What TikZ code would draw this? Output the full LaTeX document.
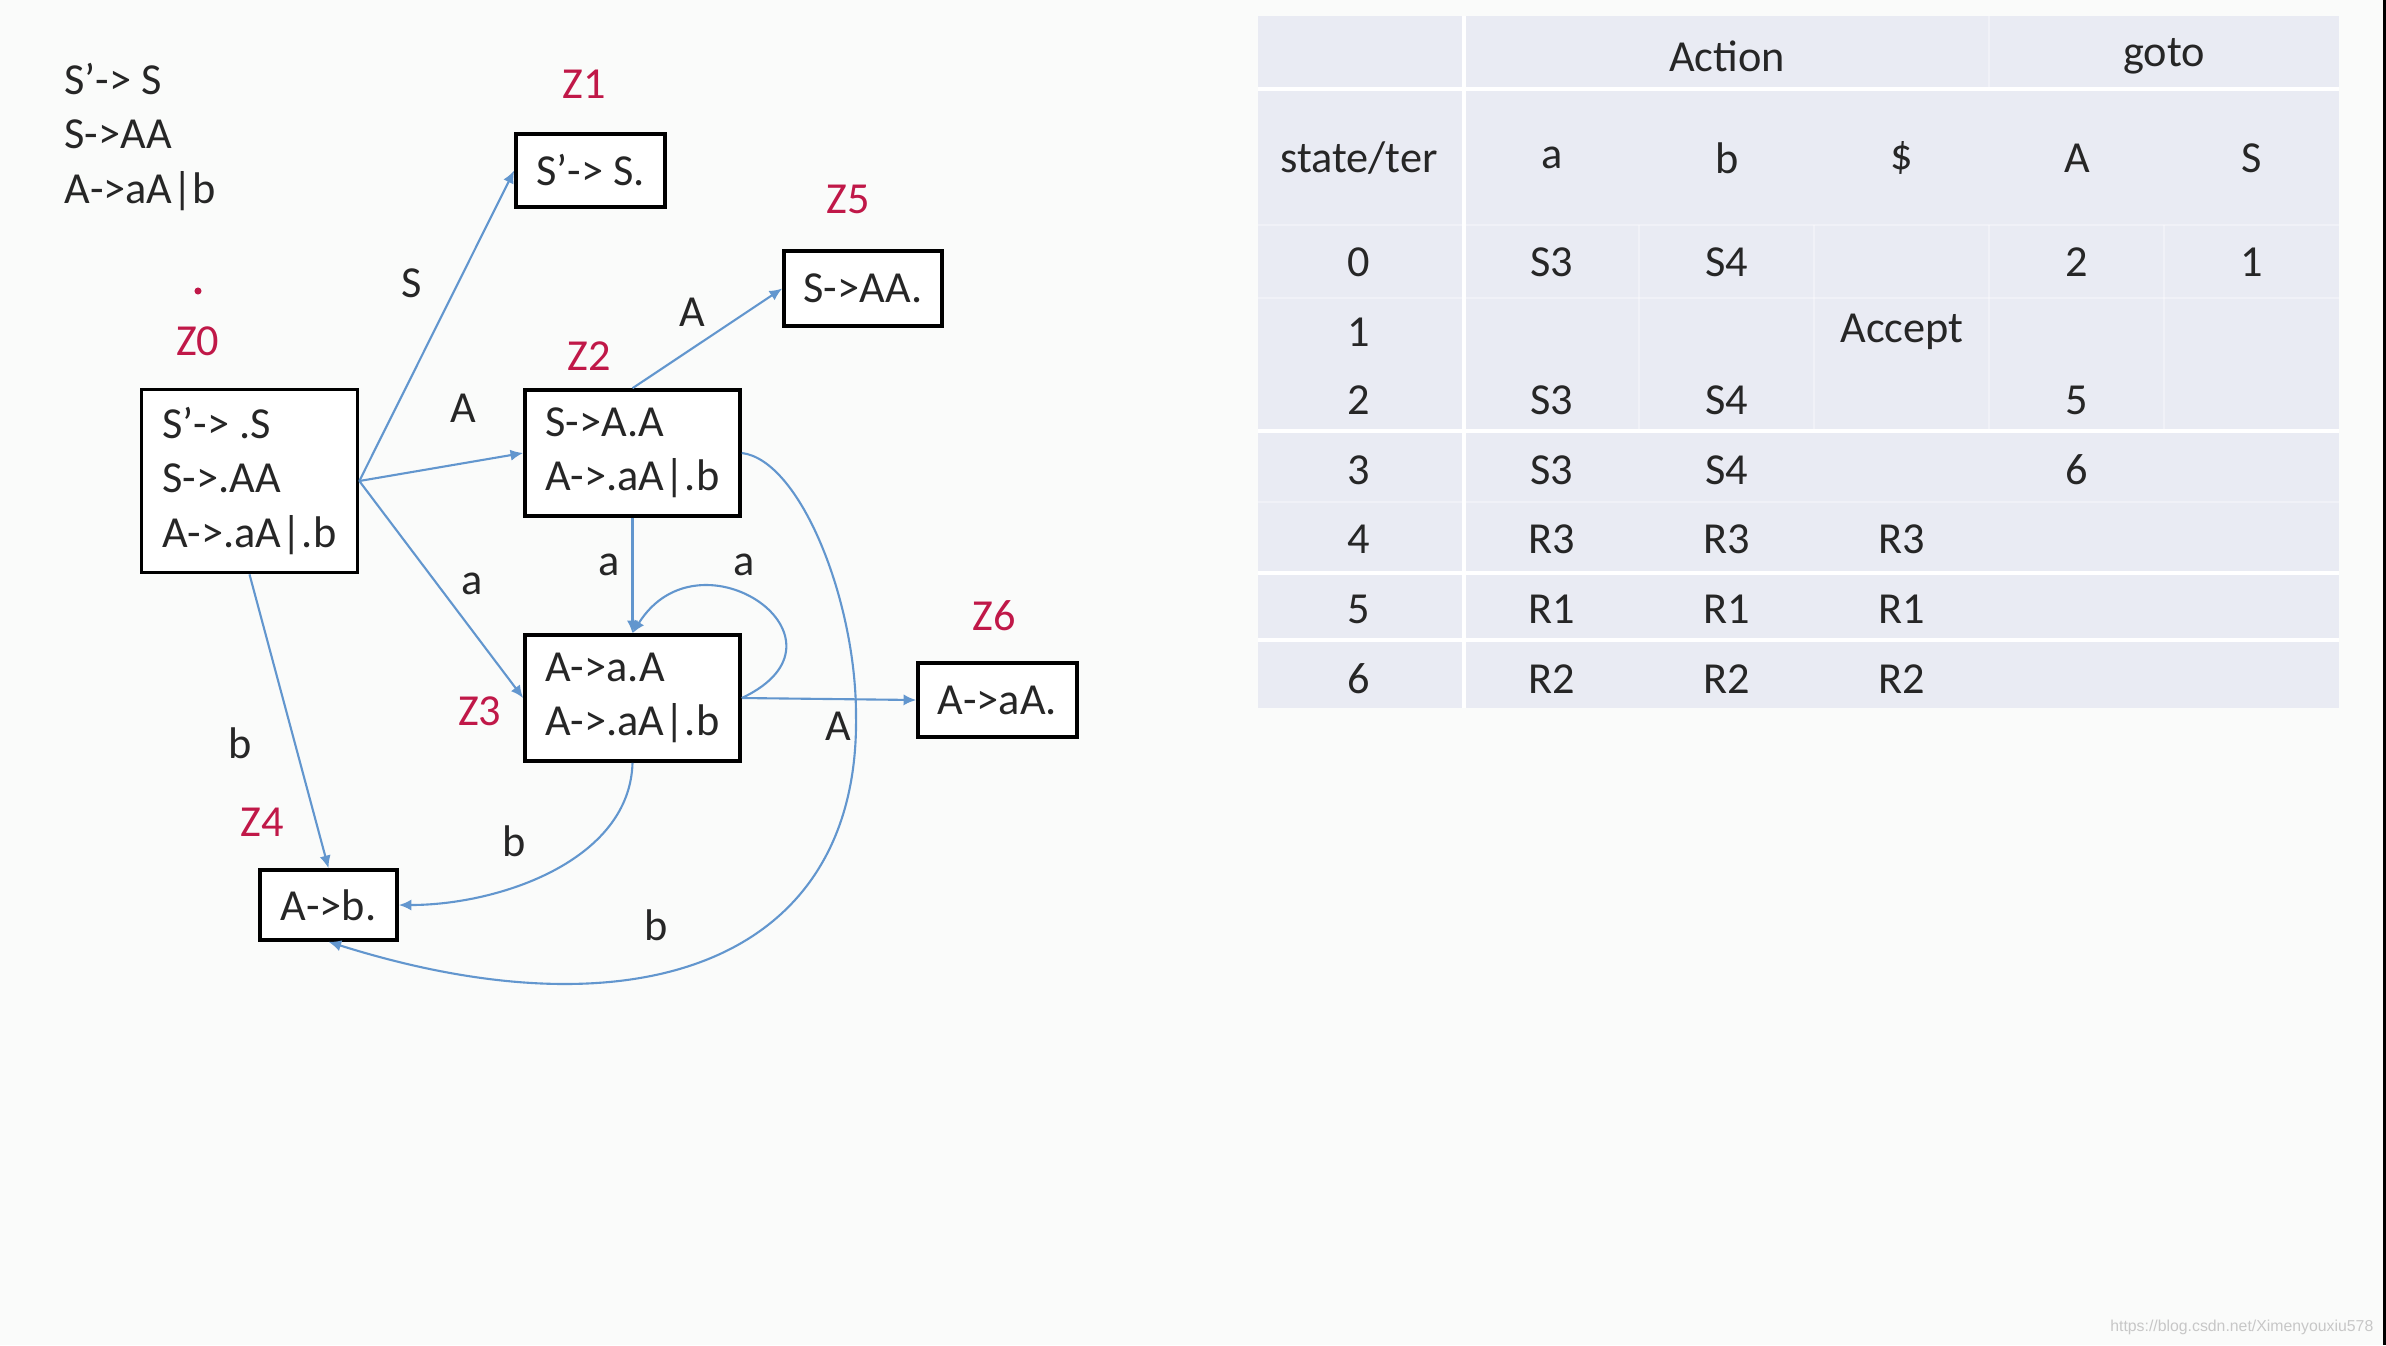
\documentclass[tikz,border=0pt]{standalone}
\usepackage{fontspec}
\setmainfont{Carlito}
\newfontfamily\wmfont{Liberation Sans}
\usepackage{xcolor}
\usetikzlibrary{arrows.meta,positioning}
\definecolor{zred}{RGB}{192,24,72}
\definecolor{arrowblue}{RGB}{98,150,206}
\definecolor{tblfill}{RGB}{233,235,243}
\definecolor{pagebg}{RGB}{250,251,250}
\tikzset{
  lrgraph/.style={>={Latex[length=3.6pt,width=3.2pt]}, every edge/.style={draw=arrowblue, line width=0.6pt, ->}},
  flow/.style={draw=arrowblue, line width=0.6pt, ->},
  st/.style={
    draw=black, line width=1pt, fill=white, align=left,
    inner sep=0pt, text=black!85, font=\fontsize{12.6}{15.4}\selectfont
  },
  zlbl/.style={inner sep=0pt, text=zred, font=\fontsize{12.6}{15}\selectfont},
  lbl/.style={inner sep=0pt, text=black!85, font=\fontsize{12.6}{15}\selectfont},
  cell/.style={lbl},
  tblrule/.style={draw=white, line width=1.2pt},
  tblfaint/.style={draw=white, line width=0.8pt, opacity=0.35},
}
\begin{document}
\begin{tikzpicture}[lrgraph, x=0.01cm, y=-0.01cm]
  \fill[pagebg] (0,0) rectangle (2386,1345);
  \useasboundingbox (0,0) rectangle (2386,1345);
  \fill[black] (2383,0) rectangle (2386,1345);

  % grammar
  \node[lbl, align=left, anchor=west, font=\fontsize{12.6}{15.6}\selectfont] (gram) at (64,137)
    {S’-> S\\S->AA\\A->aA|b};

  % item sets
  \node[st, minimum width=2.16cm, minimum height=1.83cm] (z0) at (249.5,481) {S’-> .S\\S->.AA\\A->.aA|.b};
  \node[st, minimum width=1.49cm, minimum height=0.73cm] (z1) at (590.5,170.5) {S’-> S.};
  \node[st, minimum width=2.15cm, minimum height=1.26cm] (z2) at (632.5,453) {S->A.A\\A->.aA|.b};
  \node[st, minimum width=2.15cm, minimum height=1.26cm] (z3) at (632.5,698) {A->a.A\\A->.aA|.b};
  \node[st, minimum width=1.37cm, minimum height=0.70cm] (z4) at (328.5,905) {A->b.};
  \node[st, minimum width=1.58cm, minimum height=0.75cm] (z5) at (863,288.5) {S->AA.};
  \node[st, minimum width=1.59cm, minimum height=0.74cm] (z6) at (997.5,700) {A->aA.};

  % state names
  \node[zlbl, above=9pt of z0, xshift=-14.7pt] (l0) {Z0};
  \node[zlbl, above=9.3pt of z1, xshift=-1.8pt] (l1) {Z1};
  \node[zlbl, above=4.8pt of z2, xshift=-12.4pt] (l2) {Z2};
  \node[zlbl, left=6pt of z3, yshift=-3.7pt] (l3) {Z3};
  \node[zlbl, above=8.7pt of z4, xshift=-18.9pt] (l4) {Z4};
  \node[zlbl, above=9.9pt of z5, xshift=-4.3pt] (l5) {Z5};
  \node[zlbl, above=8.5pt of z6, xshift=-1pt] (l6) {Z6};
  \node[circle, fill=zred, inner sep=0pt, minimum size=2pt] (mark) at (198,291) {};

  % transitions
  \path (z0.east) edge (z1.west);
  \path (z0.east) edge (z2.west);
  \path (z0.east) edge (z3.west);
  \path (z0.south) edge (z4.north);
  \path (z2.north) edge (z5.west);
  \path (z2.south) edge (z3.north);
  \path (z3.east) edge (z6.west);
  \draw[flow] (z3.east) .. controls (865,640) and (700,525) .. (z3.north);
  \draw[flow] (z3.south) .. controls (630,860) and (500,905) .. (z4.east);
  \coordinate (swing) at (856,715);
  \draw[flow] (z2.east) .. controls (800,460) and (856,600) .. (swing)
    .. controls (860,960) and (640,1040) .. (z4.south);

  % transition labels
  \node[lbl] (tS) at (412,283) {S};
  \node[lbl] (tA0) at (463,408) {A};
  \node[lbl] (ta0) at (472,584) {a};
  \node[lbl] (tb0) at (240,743) {b};
  \node[lbl] (tA2) at (692,312) {A};
  \node[lbl] (ta2) at (609,565) {a};
  \node[lbl] (ta3) at (744,565) {a};
  \node[lbl] (tA3) at (838,726) {A};
  \node[lbl] (tb3) at (514,841) {b};
  \node[lbl] (tb2) at (656,925) {b};

  % parse table
  \fill[tblfill] (1258,16) rectangle (2339,708);
  \foreach \yy in {89,431,573,640}
    \draw[tblrule] (1258,\yy) -- (2339,\yy);
  \foreach \yy in {225,298,502}
    \draw[tblfaint] (1258,\yy) -- (2339,\yy);
  \draw[tblrule] (1464,16) -- (1464,708);
  \draw[tblfaint] (1989,16) -- (1989,89);
  \foreach \xx in {1639,1814,1989,2164}
    \draw[tblfaint] (\xx,225) -- (\xx,431);

  \node[cell] (hact) at (1727,56) {Action};
  \node[cell] (hgoto) at (2164,56) {goto};
  \node[cell] (hst) at (1359,158) {state/ter};
  \node[cell] (ha) at (1552,158) {a};
  \node[cell] (hb) at (1727,158) {b};
  \node[cell] (hd) at (1902,158) {\$};
  \node[cell] (hA) at (2077,158) {A};
  \node[cell] (hS) at (2252,158) {S};
  \foreach \r/\yy/\ca/\cb/\cd/\gA/\gS in {0/262/S3/S4//2/1,1/332///Accept//,2/400/S3/S4//5/,3/470/S3/S4//6/,4/539/R3/R3/R3//,5/609/R1/R1/R1//,6/679/R2/R2/R2//}{
    \node[cell] (s\r) at (1359,\yy) {\r};
    \node[cell] (a\r) at (1552,\yy) {\ca};
    \node[cell] (b\r) at (1727,\yy) {\cb};
    \node[cell] (d\r) at (1902,\yy) {\cd};
    \node[cell] (A\r) at (2077,\yy) {\gA};
    \node[cell] (S\r) at (2252,\yy) {\gS};
  }

  \node[anchor=east, inner sep=0pt, text=black!22, font=\wmfont\fontsize{4.5}{5}\selectfont] (wm)
    at (2374,1327) {https://blog.csdn.net/Ximenyouxiu578};
\end{tikzpicture}
\end{document}
